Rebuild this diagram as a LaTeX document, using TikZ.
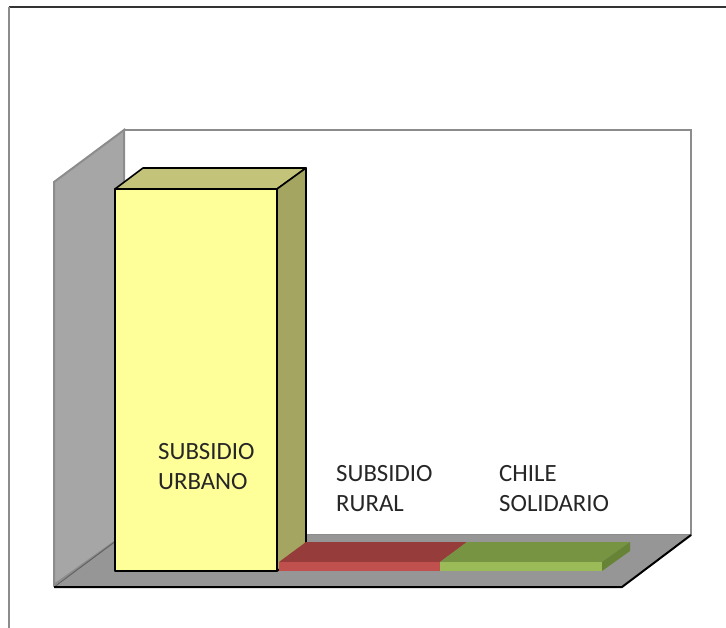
\documentclass[tikz,border=0pt]{standalone}
\usepackage{fontspec}
\setmainfont{Carlito}
\usepackage{tikz}
\usetikzlibrary{positioning}

\definecolor{wallgray}{HTML}{A6A6A6}
\definecolor{floorgray}{HTML}{969696}
\definecolor{edgegray}{HTML}{8C8C8C}
\definecolor{urbfront}{HTML}{FFFF99}
\definecolor{urbtop}{HTML}{C3C37A}
\definecolor{urbside}{HTML}{A5A562}
\definecolor{rurfront}{HTML}{C0504D}
\definecolor{rurtop}{HTML}{963C3A}
\definecolor{solfront}{HTML}{9BBB59}
\definecolor{soltop}{HTML}{779443}
\definecolor{solside}{HTML}{678436}

\tikzset{
  barlabel/.style={anchor=west, align=left, inner sep=0pt, text=black!85,
    font=\fontsize{24.8}{30}\selectfont},
  baredge/.style={draw=black, line width=1.6pt, line join=round}
}

\begin{document}
\begin{tikzpicture}[x=1pt, y=-1pt]

\useasboundingbox (0,0) rectangle (726,628);

% outer frame
\draw[line width=1.5pt, black!80] (9,7) -- (726,7);
\draw[line width=1.5pt, edgegray] (9,7) -- (9,628);

% walls and floor
\draw[edgegray, line width=2pt, fill=white] (124,130) rectangle (691,535);
\draw[edgegray, line width=2pt, fill=wallgray] (54,585) -- (54,182) -- (124,130) -- (124,535) -- cycle;
\fill[floorgray] (54,587) -- (124,535) -- (691,535) -- (622,587) -- cycle;
\draw[edgegray!70!black, line width=1pt] (54,587) -- (124,535);
\draw[black, line width=2pt] (54,587) -- (622,587) -- (691,535);

% subsidio urbano
\filldraw[baredge, fill=urbtop] (115,189) -- (143,168) -- (306,168) -- (277,189) -- cycle;
\filldraw[baredge, fill=urbside] (277,189) -- (306,168) -- (306,550) -- (277,571) -- cycle;
\filldraw[baredge, fill=urbfront] (115,189) rectangle (277,571);

% subsidio rural
\fill[rurtop] (279,562) -- (306,542) -- (467,542) -- (440,562) -- cycle;
\fill[rurfront] (279,562) rectangle (440,571);

% chile solidario
\fill[soltop] (440,562) -- (467,542) -- (630,542) -- (602,562) -- cycle;
\fill[solside] (602,562) -- (630,542) -- (630,551) -- (602,571) -- cycle;
\fill[solfront] (440,562) rectangle (602,571);

% labels
\node[barlabel] (urbano) at (158,467) {SUBSIDIO\\URBANO};
\node[barlabel] (rural) at (336,489) {SUBSIDIO\\RURAL};
\node[barlabel] (solidario) at (499,489) {CHILE\\SOLIDARIO};

\end{tikzpicture}
\end{document}
